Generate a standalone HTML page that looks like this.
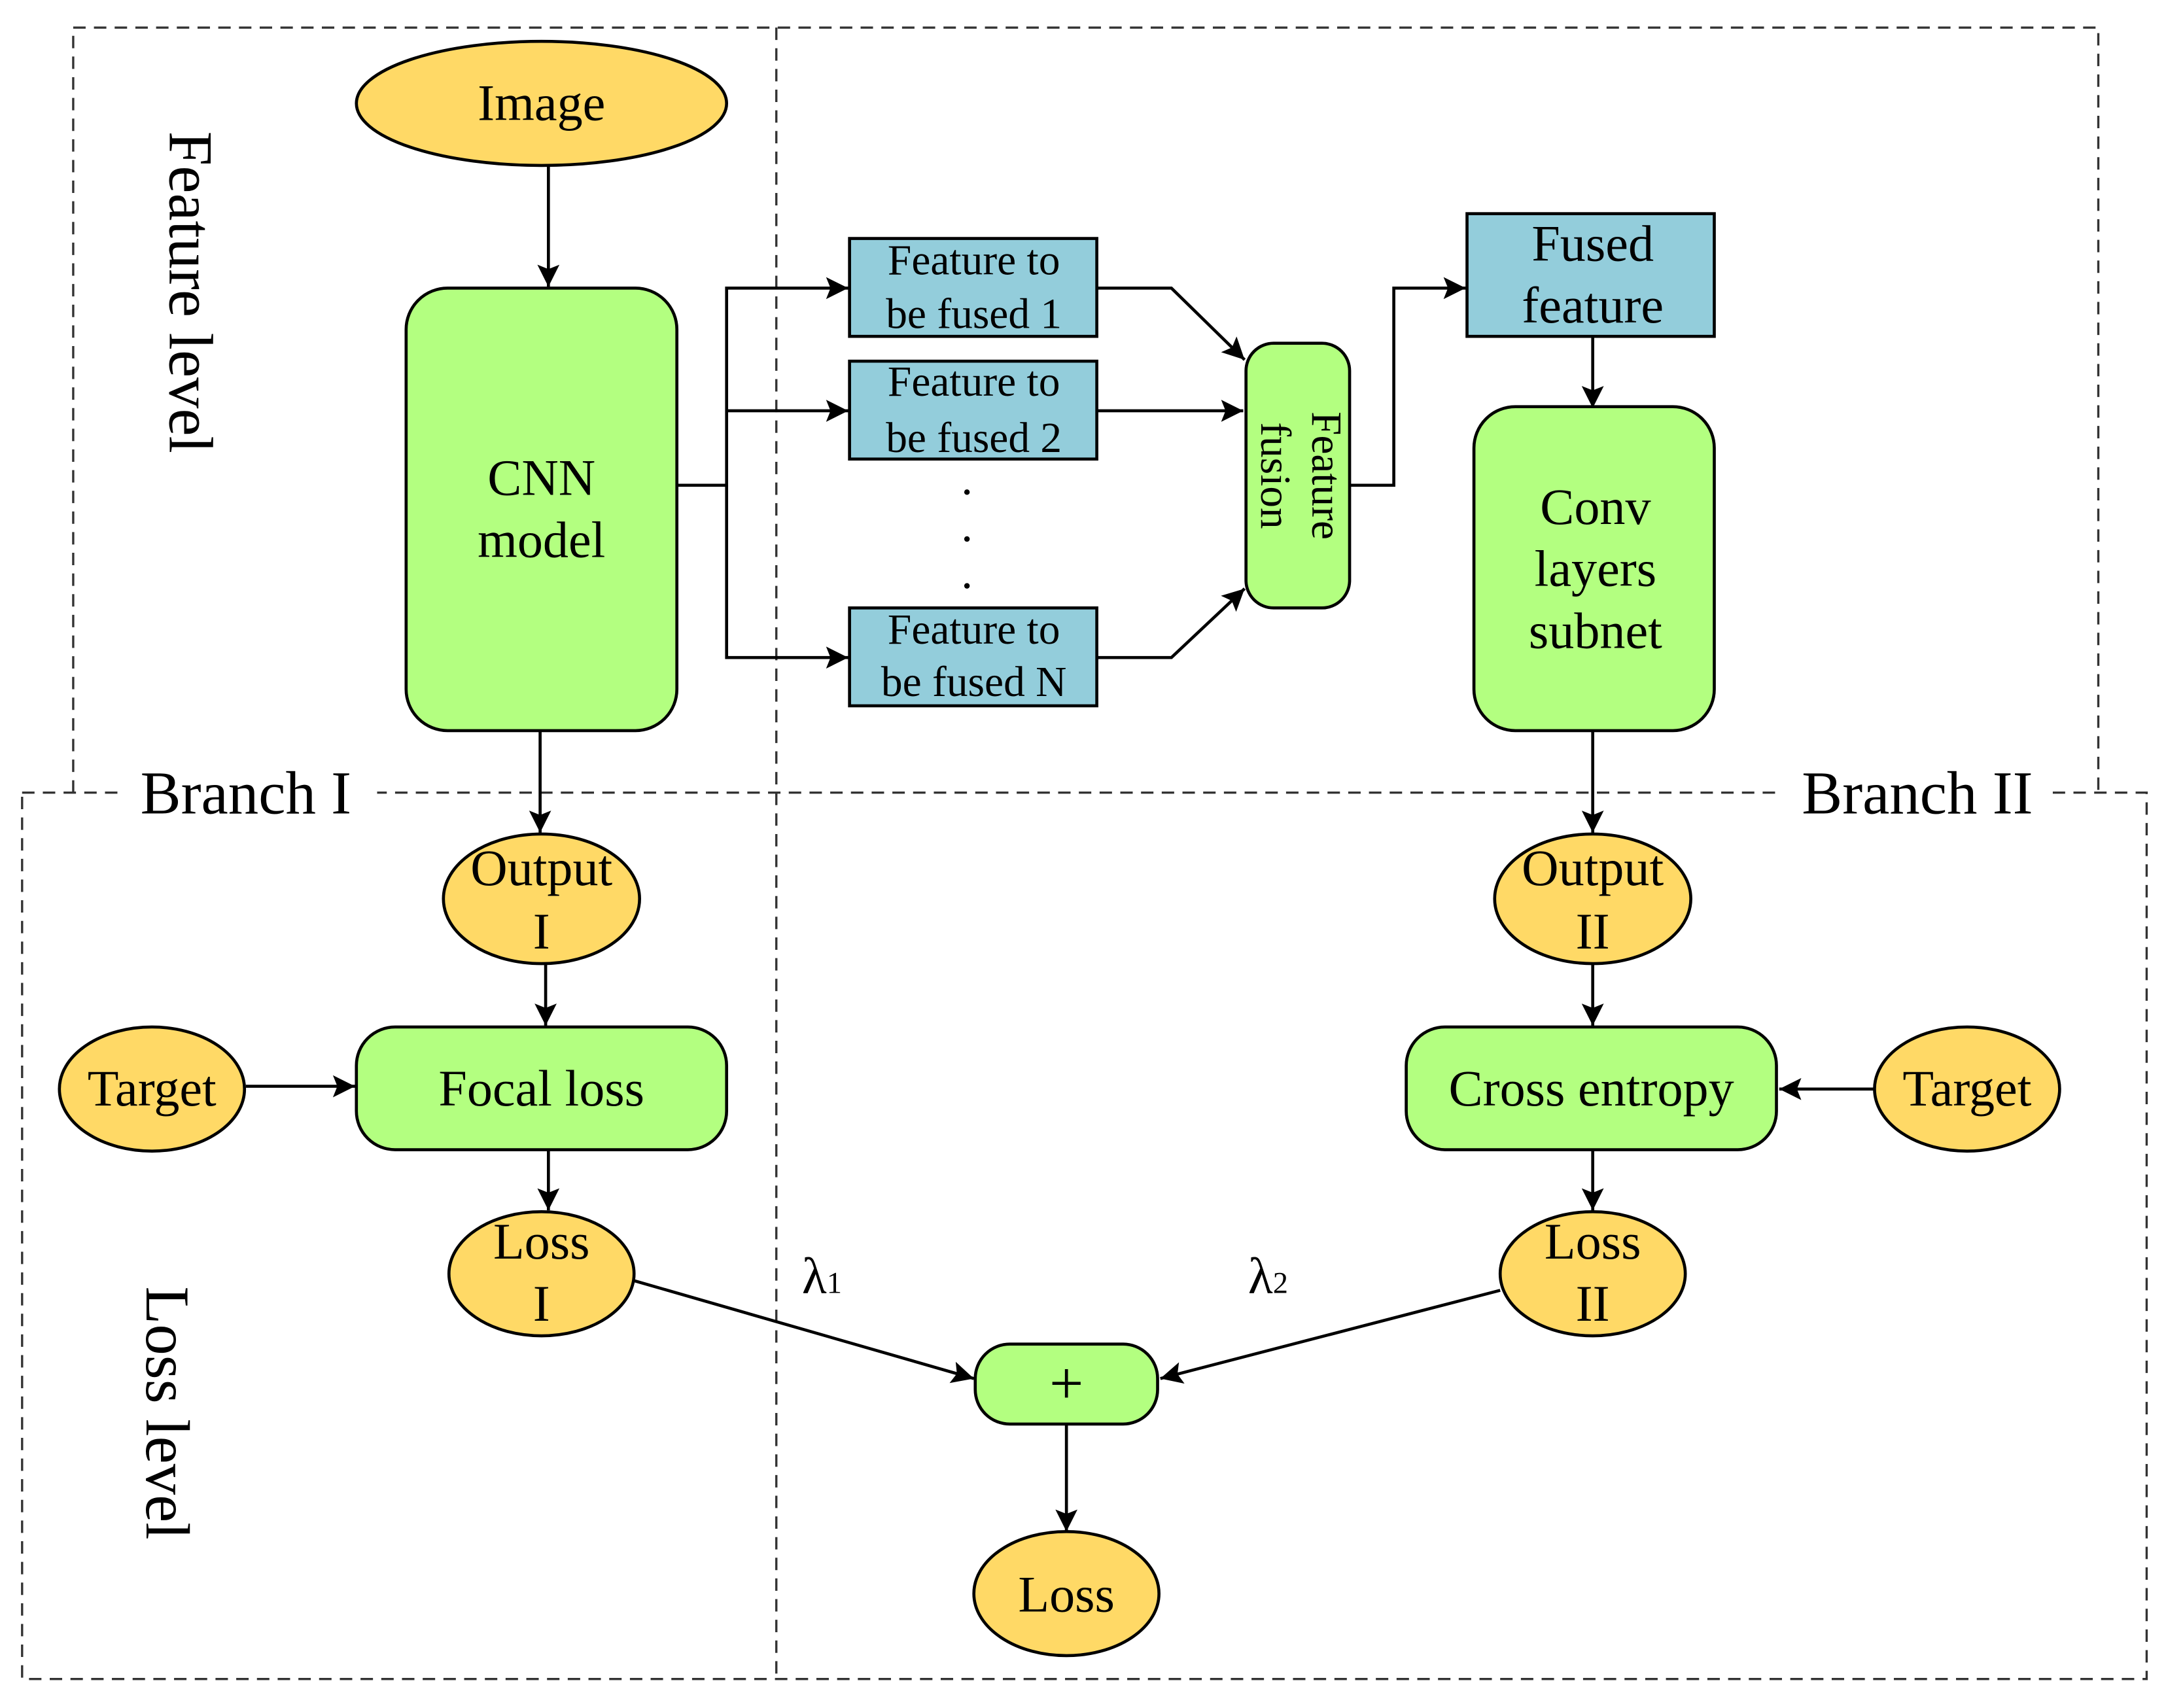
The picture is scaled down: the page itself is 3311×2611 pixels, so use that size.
<!DOCTYPE html>
<html><head><meta charset="utf-8"><style>
html,body{margin:0;padding:0;background:#fff}
svg{display:block}
text{font-family:"Liberation Serif",serif;fill:#000}
</style></head><body>
<svg width="3311" height="2611" viewBox="0 0 1568 1239" preserveAspectRatio="none" xmlns="http://www.w3.org/2000/svg">
<defs>
<marker id="b" viewBox="0 0 10 10" refX="10" refY="5" markerWidth="20" markerHeight="16" markerUnits="userSpaceOnUse" orient="auto"><path d="M0,0 L10,5 L0,10 L2,5 Z" fill="#000"/></marker>
</defs>
<g fill="none" stroke="#333" stroke-width="1.6" stroke-dasharray="9,6">
<polyline points="53,575 53,20 1519,20 1519,575"/>
<rect x="16" y="575" width="1538" height="643"/>
<line x1="562" y1="20" x2="562" y2="1218"/>
</g>
<rect x="85" y="553" width="188" height="44" fill="#fff"/>
<rect x="1290" y="553" width="196" height="44" fill="#fff"/>
<text x="178" y="590" font-size="44" text-anchor="middle">Branch I</text>
<text x="1388" y="590" font-size="44" text-anchor="middle">Branch II</text>
<text transform="translate(123,212) rotate(90)" font-size="45" text-anchor="middle">Feature level</text>
<text transform="translate(106,1025) rotate(90)" font-size="45" text-anchor="middle">Loss level</text>

<g stroke="#000" stroke-width="2.2" fill="none" marker-end="url(#b)">
<line x1="397" y1="120" x2="397" y2="208"/>
<line x1="391" y1="530" x2="391" y2="604"/>
<line x1="395" y1="699" x2="395" y2="744"/>
<line x1="178" y1="788" x2="257" y2="788"/>
<line x1="397" y1="834" x2="397" y2="878"/>
<line x1="1153" y1="530" x2="1153" y2="604"/>
<line x1="1153" y1="699" x2="1153" y2="744"/>
<line x1="1358" y1="790" x2="1288" y2="790"/>
<line x1="1153" y1="834" x2="1153" y2="878"/>
<line x1="1153" y1="244" x2="1153" y2="296"/>
<polyline points="490,352 526,352 526,209 614,209"/>
<polyline points="526,298 614,298"/>
<polyline points="526,352 526,477 614,477"/>
<polyline points="794,209 848,209 901,261"/>
<polyline points="794,298 900,298"/>
<polyline points="794,477 848,477 901,427"/>
<polyline points="977,352 1009,352 1009,209 1061,209"/>
<line x1="459" y1="929" x2="705" y2="1000"/>
<line x1="1086" y1="936" x2="840" y2="1000"/>
<line x1="772" y1="1033" x2="772" y2="1111"/>
</g>

<g stroke="#000" stroke-width="2.2">
<ellipse cx="392" cy="75" rx="134" ry="45" fill="#FFD966"/>
<rect x="294" y="209" width="196" height="321" rx="30" fill="#B3FF80"/>
<rect x="615" y="173" width="179" height="71" fill="#93CDDB"/>
<rect x="615" y="262" width="179" height="71" fill="#93CDDB"/>
<rect x="615" y="441" width="179" height="71" fill="#93CDDB"/>
<rect x="902" y="249" width="75" height="192" rx="20" fill="#B3FF80"/>
<rect x="1062" y="155" width="179" height="89" fill="#93CDDB"/>
<rect x="1067" y="295" width="174" height="235" rx="30" fill="#B3FF80"/>
<ellipse cx="392" cy="652" rx="71" ry="47" fill="#FFD966"/>
<ellipse cx="1153" cy="652" rx="71" ry="47" fill="#FFD966"/>
<rect x="258" y="745" width="268" height="89" rx="28" fill="#B3FF80"/>
<rect x="1018" y="745" width="268" height="89" rx="28" fill="#B3FF80"/>
<ellipse cx="110" cy="790" rx="67" ry="45" fill="#FFD966"/>
<ellipse cx="1424" cy="790" rx="67" ry="45" fill="#FFD966"/>
<ellipse cx="392" cy="924" rx="67" ry="45" fill="#FFD966"/>
<ellipse cx="1153" cy="924" rx="67" ry="45" fill="#FFD966"/>
<rect x="706" y="975" width="132" height="58" rx="25" fill="#B3FF80"/>
<ellipse cx="772" cy="1156" rx="67" ry="45" fill="#FFD966"/>
</g>
<g font-size="37" text-anchor="middle">
<text x="392" y="87">Image</text>
<text x="392" y="359">CNN</text>
<text x="392" y="404">model</text>
<text x="1153" y="189">Fused</text>
<text x="1153" y="234">feature</text>
<text x="1155" y="380">Conv</text>
<text x="1155" y="425">layers</text>
<text x="1155" y="470">subnet</text>
<text x="392" y="642">Output</text>
<text x="392" y="688">I</text>
<text x="1153" y="642">Output</text>
<text x="1153" y="688">II</text>
<text x="392" y="802">Focal loss</text>
<text x="1152" y="802">Cross entropy</text>
<text x="110" y="802">Target</text>
<text x="1424" y="802">Target</text>
<text x="392" y="913">Loss</text>
<text x="392" y="958">I</text>
<text x="1153" y="913">Loss</text>
<text x="1153" y="958">II</text>
<text x="772" y="1169">Loss</text>
<text x="772" y="1018" font-size="44">+</text>
<text x="595" y="938">λ<tspan font-size="22">1</tspan></text>
<text x="918" y="938">λ<tspan font-size="22">2</tspan></text>
</g>
<g font-size="31" text-anchor="middle">
<text x="705" y="199">Feature to</text>
<text x="705" y="238">be fused 1</text>
<text x="705" y="287">Feature to</text>
<text x="705" y="328">be fused  2</text>
<text x="705" y="467">Feature to</text>
<text x="705" y="505">be fused N</text>
<text transform="translate(950,345) rotate(90)">Feature</text>
<text transform="translate(913,345) rotate(90)">fusion</text>
</g>
<g fill="#000"><circle cx="700" cy="357" r="2"/><circle cx="700" cy="391" r="2"/><circle cx="700" cy="425" r="2"/></g>
</svg>
</body></html>
